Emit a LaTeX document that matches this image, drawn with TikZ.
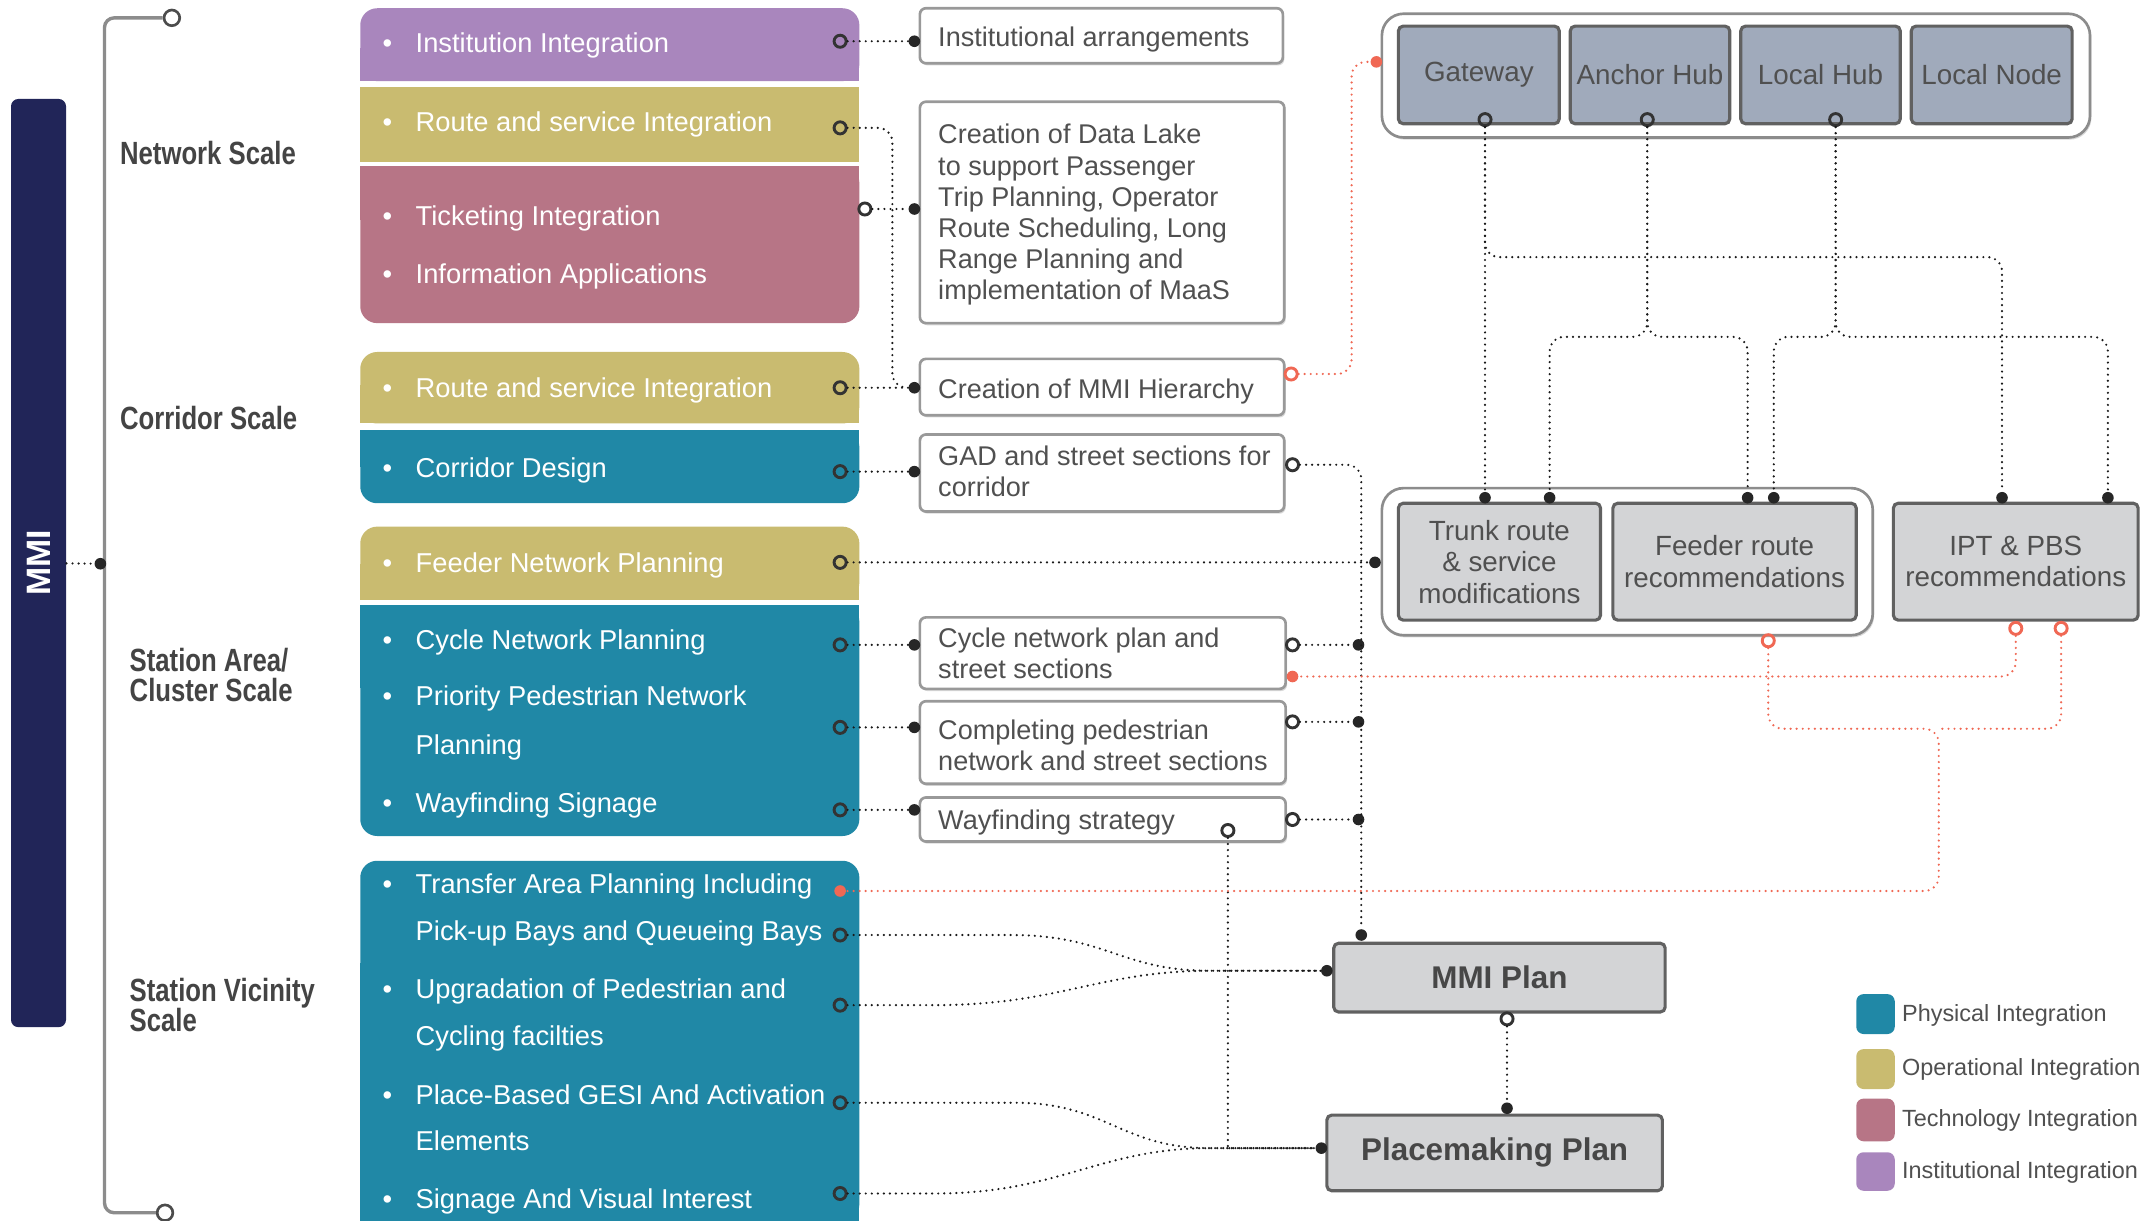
\documentclass[tikz,border=0pt]{standalone}
\usepackage{fontspec}
\setmainfont{Liberation Sans}
\newfontfamily\condfont{Liberation Sans}[FakeStretch=0.8]
\usetikzlibrary{fit,shadows}

\definecolor{mminavy}{RGB}{33,37,88}
\definecolor{physteal}{RGB}{32,136,166}
\definecolor{operolive}{RGB}{201,187,112}
\definecolor{techmauve}{RGB}{183,117,134}
\definecolor{instpurple}{RGB}{169,134,189}
\definecolor{hubgray}{RGB}{160,170,187}
\definecolor{plangray}{RGB}{211,212,214}
\definecolor{linkred}{RGB}{240,104,84}
\definecolor{txtgray}{RGB}{80,80,80}
\definecolor{lblgray}{RGB}{68,68,68}

\newcommand{\bul}{\makebox[0.48cm][l]{\textbullet}}

\begin{document}
\begin{tikzpicture}[x=0.02cm, y=-0.02cm,
  catbox/.style={inner sep=0pt, rounded corners=7pt},
  item/.style={anchor=base west, inner sep=0pt, text=white, font=\fontsize{11.3}{13}\selectfont},
  scalelbl/.style={anchor=north west, inner sep=0pt, align=left, text=lblgray, font=\condfont\bfseries\fontsize{13.3}{12.5}\selectfont},
  resbox/.style={inner sep=0pt, fill=white, draw=black!40, line width=1.1pt, rounded corners=2.5pt, drop shadow={shadow xshift=0.6pt, shadow yshift=-0.9pt, opacity=0.3}},
  restxt/.style={anchor=north west, inner sep=0pt, align=left, text=txtgray, font=\fontsize{11.2}{12.9}\selectfont},
  panel/.style={inner sep=0pt, fill=white, draw=black!45, line width=1.1pt, rounded corners=9pt, drop shadow={shadow xshift=0.6pt, shadow yshift=-0.9pt, opacity=0.3}},
  hubbox/.style={inner sep=0pt, fill=hubgray, draw=black!62, line width=1.3pt, rounded corners=2pt},
  recbox/.style={inner sep=0pt, fill=plangray, draw=black!62, line width=1.3pt, rounded corners=2pt},
  boxtxt/.style={align=center, inner sep=0pt, text=txtgray, font=\fontsize{11.5}{13}\selectfont},
  plantxt/.style={inner sep=0pt, text=black!72, font=\bfseries\fontsize{13}{15}\selectfont},
  legbox/.style={inner sep=0pt, rounded corners=3pt},
  legtxt/.style={anchor=base west, inner sep=0pt, text=txtgray, font=\fontsize{9.7}{11}\selectfont},
  link/.style={draw=black!90, line width=1pt, line cap=round, dash pattern=on 0pt off 2.5pt, rounded corners=6pt},
  redlink/.style={link, draw=linkred},
  src/.style={circle, draw=black!80, line width=1.2pt, inner sep=0pt, minimum size=5pt},
  redsrc/.style={src, draw=linkred},
  dst/.style={circle, fill=black!85, inner sep=0pt, minimum size=4.8pt},
  reddst/.style={dst, fill=linkred}]

\path[fill=white, use as bounding box] (0,0) rectangle (1568,888);

% MMI bar and scale bracket
\node[fit={(8,72) (48,747)}, inner sep=0pt, fill=mminavy, rounded corners=3pt] (mmiBar) {};
\node[rotate=90, text=white, font=\bfseries\fontsize{14}{14}\selectfont] (mmiT) at (mmiBar) {MMI};
\node[circle, draw=black!70, line width=1.1pt, inner sep=0pt, minimum size=6.5pt] (brTop) at (125,13) {};
\node[circle, draw=black!70, line width=1.1pt, inner sep=0pt, minimum size=6.5pt] (brBot) at (120,882) {};
\draw[draw=black!45, line width=1.4pt, rounded corners=4pt] (brTop) -- (76,13) -- (76,882) -- (brBot);
\node[dst] (mmiDot) at (73,410) {};
\draw[link] (mmiBar) -- (mmiDot);

\node[scalelbl] (lNet) at (87,102) {Network Scale};
\node[scalelbl] (lCor) at (87,295) {Corridor Scale};
\node[scalelbl] (lSta) at (94,471) {Station Area/\\Cluster Scale};
\node[scalelbl] (lVic) at (94,711) {Station Vicinity\\Scale};

% coloured activity boxes
\node[catbox, fill=instpurple, fit={(262,6) (625,59)}] (bInst) {};
\fill[instpurple] (262,35) rectangle (625,59);
\node[catbox, sharp corners, fill=operolive, fit={(262,63) (625,118)}] (bRt1) {};
\node[catbox, fill=techmauve, fit={(262,121) (625,235)}] (bTech) {};
\fill[techmauve] (262,121) rectangle (625,160);
\node[catbox, fill=operolive, fit={(262,256) (625,308)}] (bRt2) {};
\fill[operolive] (262,280) rectangle (625,308);
\node[catbox, fill=physteal, fit={(262,313) (625,366)}] (bCorr) {};
\fill[physteal] (262,313) rectangle (625,340);
\node[catbox, fill=operolive, fit={(262,383) (625,436)}] (bFeed) {};
\fill[operolive] (262,410) rectangle (625,436);
\node[catbox, fill=physteal, fit={(262,440) (625,608)}] (bStat) {};
\fill[physteal] (262,440) rectangle (625,500);
\node[catbox, fill=physteal, fit={(262,626) (625,888)}] (bVic) {};
\fill[physteal] (262,700) rectangle (625,888);

\node[item] (tInst) at (278,38) {\bul Institution Integration};
\node[item] (tRt1) at (278,96) {\bul Route and service Integration};
\node[item] (tTick) at (278,164) {\bul Ticketing Integration};
\node[item] (tInfo) at (278,206) {\bul Information Applications};
\node[item] (tRt2) at (278,289) {\bul Route and service Integration};
\node[item] (tCorr) at (278,347) {\bul Corridor Design};
\node[item] (tFeed) at (278,416) {\bul Feeder Network Planning};
\node[item] (tCyc) at (278,472) {\bul Cycle Network Planning};
\node[item] (tPri) at (278,513) {\bul Priority Pedestrian Network};
\node[item] (tPriB) at (302,549) {Planning};
\node[item] (tWayS) at (278,591) {\bul Wayfinding Signage};
\node[item] (tTrans) at (278,650) {\bul Transfer Area Planning Including};
\node[item] (tTransB) at (302,684) {Pick-up Bays and Queueing Bays};
\node[item] (tUpg) at (278,726) {\bul Upgradation of Pedestrian and};
\node[item] (tUpgB) at (302,760) {Cycling facilties};
\node[item] (tPlace) at (278,803) {\bul Place-Based GESI And Activation};
\node[item] (tPlaceB) at (302,837) {Elements};
\node[item] (tSign) at (278,879) {\bul Signage And Visual Interest};

% result boxes
\node[resbox, fit={(669,6) (933,46)}] (rArr) {};
\node[restxt] (rArrT) at (682,19) {Institutional arrangements};
\node[resbox, fit={(669,74) (934,235)}] (rLake) {};
\node[restxt] (rLakeT) at (682,90) {Creation of Data Lake\\to support Passenger\\Trip Planning, Operator\\Route Scheduling, Long\\Range Planning and\\implementation of MaaS};
\node[resbox, fit={(669,261) (934,302)}] (rHier) {};
\node[restxt] (rHierT) at (682,275) {Creation of MMI Hierarchy};
\node[resbox, fit={(669,316) (934,372)}] (rGad) {};
\node[restxt] (rGadT) at (682,324) {GAD and street sections for\\corridor};
\node[resbox, fit={(669,449) (935,501)}] (rCyc) {};
\node[restxt] (rCycT) at (682,456) {Cycle network plan and\\street sections};
\node[resbox, fit={(669,510) (935,570)}] (rPed) {};
\node[restxt] (rPedT) at (682,523) {Completing pedestrian\\network and street sections};
\node[resbox, fit={(669,580) (935,612)}] (rWay) {};
\node[restxt] (rWayT) at (682,589) {Wayfinding strategy};

% MMI hierarchy
\node[panel, fit={(1005,10) (1520,100)}] (pTop) {};
\node[hubbox, fit={(1017,19) (1134,90)}] (hGate) {};
\node[boxtxt] (hGateT) at (hGate) {Gateway};
\node[hubbox, fit={(1142,19) (1258,90)}] (hAnch) {};
\node[boxtxt] (hAnchT) at (hAnch) {Anchor Hub};
\node[hubbox, fit={(1266,19) (1382,90)}] (hLHub) {};
\node[boxtxt] (hLHubT) at (hLHub) {Local Hub};
\node[hubbox, fit={(1390,19) (1507,90)}] (hLNode) {};
\node[boxtxt] (hLNodeT) at (hLNode) {Local Node};

\node[panel, fit={(1005,355) (1362,462)}] (pMid) {};
\node[recbox, fit={(1017,366) (1164,451)}] (mTrunk) {};
\node[boxtxt] (mTrunkT) at (mTrunk) {Trunk route\\\& service\\modifications};
\node[recbox, fit={(1173,366) (1350,451)}] (mFeed) {};
\node[boxtxt] (mFeedT) at (mFeed) {Feeder route\\recommendations};
\node[recbox, fit={(1377,366) (1555,451)}] (mIpt) {};
\node[boxtxt] (mIptT) at (mIpt) {IPT \& PBS\\recommendations};

\node[recbox, fit={(970,686) (1211,736)}] (plMMI) {};
\node[plantxt] (plMMIT) at (plMMI) {MMI Plan};
\node[recbox, fit={(965,811) (1209,866)}] (plPlace) {};
\node[plantxt] (plPlaceT) at (plPlace) {Placemaking Plan};

% legend
\node[legbox, fill=physteal, fit={(1350,723) (1378,752)}] (lgPhys) {};
\node[legtxt] (lgPhysT) at (1383,743) {Physical Integration};
\node[legbox, fill=operolive, fit={(1350,763) (1378,792)}] (lgOper) {};
\node[legtxt] (lgOperT) at (1383,782) {Operational Integration};
\node[legbox, fill=techmauve, fit={(1350,799) (1378,830)}] (lgTech) {};
\node[legtxt] (lgTechT) at (1383,819) {Technology Integration};
\node[legbox, fill=instpurple, fit={(1350,838) (1378,866)}] (lgInst) {};
\node[legtxt] (lgInstT) at (1383,857) {Institutional Integration};

% ports
\node[src] (sInst) at (611,30) {};
\node[src] (sRt1) at (611,93) {};
\node[src] (sTech) at (629,152) {};
\node[src] (sRt2) at (611,282) {};
\node[src] (sCorr) at (611,343) {};
\node[src] (sFeed) at (611,409) {};
\node[src] (sCyc) at (611,469) {};
\node[src] (sPri) at (611,529) {};
\node[src] (sWay) at (611,589) {};
\node[reddst] (dTrans) at (611,648) {};
\node[src] (sPick) at (611,680) {};
\node[src] (sUpg) at (611,731) {};
\node[src] (sPlace) at (611,802) {};
\node[src] (sSign) at (611,868) {};

\node[dst] (dArr) at (665,30) {};
\node[dst] (dLake) at (665,152) {};
\node[dst] (dHier) at (665,282) {};
\node[dst] (dGad) at (665,343) {};
\node[dst] (dCyc) at (665,469) {};
\node[dst] (dPed) at (665,529) {};
\node[dst] (dWay) at (665,589) {};

\node[redsrc] (sHierR) at (939,272) {};
\node[src] (sGad) at (940,338) {};
\node[src] (sCycR) at (940,469) {};
\node[reddst] (dCycR) at (940,492) {};
\node[src] (sPedR) at (940,525) {};
\node[src] (sWayR) at (940,596) {};
\node[src] (sWayB) at (893,604) {};

\node[dst] (jCyc) at (988,469) {};
\node[dst] (jPed) at (988,525) {};
\node[dst] (jWay) at (988,596) {};
\node[dst] (dFeedP) at (1000,409) {};
\node[reddst] (dTop) at (1001,45) {};
\node[dst] (dMMITop) at (990,680) {};
\node[dst] (dMMIL) at (965,706) {};
\node[dst] (dPlaceL) at (961,835) {};
\node[src] (sMMI) at (1096,741) {};
\node[dst] (dPlaceT) at (1096,806) {};

\node[src] (sGate) at (1080,87) {};
\node[src] (sAnch) at (1198,87) {};
\node[src] (sLHub) at (1335,87) {};
\node[dst] (dTrunkA) at (1080,362) {};
\node[dst] (dTrunkB) at (1127,362) {};
\node[dst] (dFeedA) at (1271,362) {};
\node[dst] (dFeedB) at (1290,362) {};
\node[dst] (dIptA) at (1456,362) {};
\node[dst] (dIptB) at (1533,362) {};
\node[redsrc] (sFeedR) at (1286,466) {};
\node[redsrc] (sIptA) at (1466,457) {};
\node[redsrc] (sIptB) at (1499,457) {};
\coordinate (redJoin) at (1410,530);

% links
\draw[link] (sInst) -- (dArr);
\draw[link] (sRt1) -- ++(38,0) |- (dHier);
\draw[link] (sTech) -- (dLake);
\draw[link] (sRt2) -- (dHier);
\draw[link] (sCorr) -- (dGad);
\draw[link] (sFeed) -- (dFeedP);
\draw[link] (sCyc) -- (dCyc);
\draw[link] (sPri) -- (dPed);
\draw[link] (sWay) -- (dWay);

\draw[link] (sGad) -| (dMMITop);
\draw[link] (sCycR) -- (jCyc);
\draw[link] (sPedR) -- (jPed);
\draw[link] (sWayR) -- (jWay);
\draw[link, sharp corners] (sWayB) |- (dPlaceL);

\draw[link, sharp corners] (sPick) -- (735,680) .. controls (805,680) and (815,706) .. (880,706) -- (dMMIL);
\draw[link, sharp corners] (sUpg) -- (680,731) .. controls (770,731) and (800,706) .. (880,706) -- (dMMIL);
\draw[link, sharp corners] (sPlace) -- (738,802) .. controls (805,802) and (815,835) .. (880,835) -- (dPlaceL);
\draw[link, sharp corners] (sSign) -- (680,868) .. controls (770,868) and (800,835) .. (880,835) -- (dPlaceL);
\draw[link] (sMMI) -- (dPlaceT);

\draw[link] (sGate) -- (dTrunkA);
\draw[link] (sGate) |- (1456,187) -- (dIptA);
\draw[link] (sAnch) |- (1127,245) -- (dTrunkB);
\draw[link] (sAnch) |- (1271,245) -- (dFeedA);
\draw[link] (sLHub) |- (1290,245) -- (dFeedB);
\draw[link] (sLHub) |- (1533,245) -- (dIptB);

\draw[redlink] (sHierR) -| (983,45) -- (dTop);
\draw[redlink] (sIptA) |- (dCycR);
\draw[redlink] (sFeedR) |- (redJoin) |- (dTrans);
\draw[redlink] (sIptB) |- (redJoin);
\end{tikzpicture}
\end{document}
